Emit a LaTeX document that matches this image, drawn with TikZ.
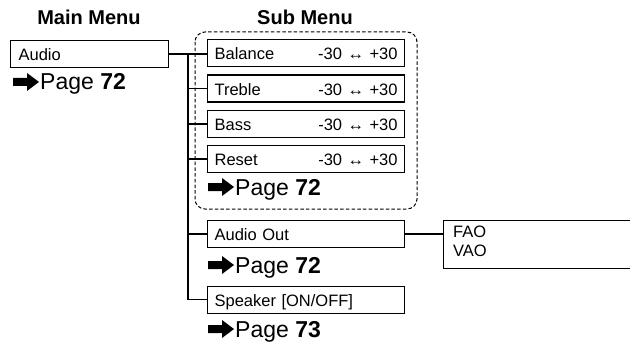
\documentclass[tikz,border=0pt]{standalone}
\usepackage{fontspec}
\setmainfont{Liberation Sans}
\begin{document}
\begin{tikzpicture}[x=1pt,y=-1pt,
  line/.style={line width=1.5pt},
  menubox/.style={draw, line width=1.2pt, anchor=north west, minimum height=27pt,
    inner ysep=0pt, inner xsep=7pt, text height=13.5pt, text depth=0pt,
    align=left, font=\fontsize{16.5}{19}\selectfont},
  head/.style={font=\fontsize{20}{23}\selectfont\bfseries, anchor=base},
  pagetxt/.style={font=\fontsize{23}{26}\selectfont, anchor=base west, inner sep=0pt},
  plain/.style={font=\fontsize{16.5}{19}\selectfont, anchor=base west, inner sep=0pt},
  parrow/.pic={\fill (0,-4) -- (14,-4) -- (14,-9) -- (26,0) -- (14,9) -- (14,4) -- (0,4) -- cycle;}
]
\useasboundingbox (0,0) rectangle (630,345);

% headings
\node[head] (hmain) at (89,25) {Main Menu};
\node[head] (hsub) at (305,25) {Sub Menu};

% main menu
\node[menubox, text width=142pt, inner xsep=8pt] (audio) at (10,40) {Audio};
\pic at (13,82) {parrow};
\node[pagetxt] (p1) at (40,90) {Page \textbf{72}};

% dashed group
\draw[line width=1pt, dash pattern=on 3.5pt off 2.2pt, rounded corners=10pt] (195,32) rectangle (417,209);

% sub menu boxes
\node[menubox, text width=183pt] (bal) at (207,39) {Balance\hfill -30 ↔ +30};
\node[menubox, text width=183pt] (tre) at (207,74.5) {Treble\hfill -30 ↔ +30};
\node[menubox, text width=183pt] (bas) at (207,110) {Bass\hfill -30 ↔ +30};
\node[menubox, text width=183pt] (res) at (207,145) {Reset\hfill -30 ↔ +30};
\pic at (208,187) {parrow};
\node[pagetxt] (p2) at (235,195) {Page \textbf{72}};

\node[menubox, text width=183pt] (ao) at (207,220) {Audio Out};
\pic at (208,265) {parrow};
\node[pagetxt] (p3) at (235,273) {Page \textbf{72}};

\node[menubox, text width=183pt] (spk) at (207,285.5) {Speaker [ON/OFF]};
\pic at (208,329) {parrow};
\node[pagetxt] (p4) at (235,337) {Page \textbf{73}};

% FAO/VAO box
\node[draw, line width=1.2pt, anchor=north west, minimum width=200pt, minimum height=48.5pt, inner sep=0pt] (fao) at (443,219.5) {};
\node[plain] (faot) at (453,237) {FAO};
\node[plain] (vaot) at (453,256) {VAO};

% connectors
\coordinate (t) at (188,53);
\draw[line] (audio.east) -- (audio.east -| bal.west);
\draw[line] (t) -- (t |- spk.west) -- (spk.west);
\draw[line] (t |- tre.west) -- (tre.west);
\draw[line] (t |- bas.west) -- (bas.west);
\draw[line] (t |- res.west) -- (res.west);
\draw[line] (t |- ao.west) -- (ao.west);
\draw[line] (ao.east) -- (ao.east -| fao.west);
\end{tikzpicture}
\end{document}
